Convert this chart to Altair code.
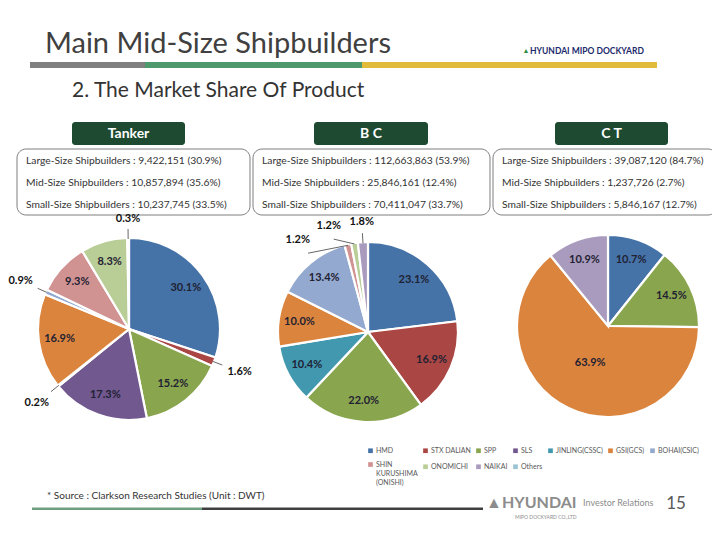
import math
import altair as alt
import pandas as pd

# ---------------- data ----------------
COMPANIES = ["HMD", "STX DALIAN", "SPP", "SLS", "JINLING(CSSC)", "GSI(GCS)",
             "BOHAI(CSIC)", "SHIN KURUSHIMA (ONISHI)", "ONOMICHI", "NAIKAI", "Others"]
COLORS = ["#4572A7", "#AA4643", "#89A54E", "#71588F", "#4198AF", "#DB843D",
          "#93A9CF", "#D19392", "#B9CD96", "#A99BBD", "#9CC3D3"]

TANKER_SHARE = [30.1, 1.6, 15.2, 17.3, 0.2, 16.9, 0.9, 9.3, 8.3, 0.3, 0]
BC_SHARE = [23.1, 16.9, 22.0, 0, 10.4, 10.0, 13.4, 1.2, 1.2, 1.8, 0]
CT_SHARE = [10.7, 0, 14.5, 0, 0, 63.9, 0, 0, 0, 10.9, 0]

PRODUCTS = ["Tanker", "B C", "C T"]
SIZE_CLASSES = ["Large-Size Shipbuilders", "Mid-Size Shipbuilders", "Small-Size Shipbuilders"]
TANKER_DWT = [9422151, 10857894, 10237745]
TANKER_PCT = [30.9, 35.6, 33.5]
BC_DWT = [112663863, 25846161, 70411047]
BC_PCT = [53.9, 12.4, 33.7]
CT_DWT = [39087120, 1237726, 5846167]
CT_PCT = [84.7, 2.7, 12.7]

TITLE = "Main Mid-Size Shipbuilders"
SUBTITLE = "2. The Market Share Of Product"
SOURCE = "* Source : Clarkson Research Studies  (Unit : DWT)"
PAGE = "15"

# ---------------- helpers ----------------
FONT = "Lato"
ONE = pd.DataFrame({"k": [0]})


def P(v):
    return v - 8


def rect(x1, y1, x2, y2, **kw):
    return alt.Chart(ONE).mark_rect(**kw).encode(
        x=alt.value(P(x1)), x2=alt.value(P(x2)), y=alt.value(P(y1)), y2=alt.value(P(y2)))


def text(s, x, y, **kw):
    kw.setdefault("font", FONT)
    kw.setdefault("baseline", "middle")
    return alt.Chart(ONE).mark_text(**kw).encode(
        x=alt.value(P(x)), y=alt.value(P(y)), text=alt.value(s))


color_scale = alt.Scale(domain=COMPANIES, range=COLORS)
legend = alt.Legend(
    orient="none", legendX=P(367), legendY=P(447), columns=7, direction="horizontal",
    title=None, symbolType="square", symbolSize=22, symbolStrokeWidth=0,
    labelFont=FONT, labelFontSize=7, labelColor="#595959",
    columnPadding=4, rowPadding=6, symbolOffset=0, labelOffset=2,
    labelExpr="datum.label == 'SHIN KURUSHIMA (ONISHI)' ? ['SHIN', 'KURUSHIMA', '(ONISHI)'] : datum.label",
)


def pie_layers(shares, cx, cy, R):
    rows = []
    total = sum(s for s in shares if s > 0)
    cum = 0.0
    for i, (c, s) in enumerate(zip(COMPANIES, shares)):
        if s <= 0:
            continue
        rows.append(dict(idx=i, company=c, v=s, mid=cum + s / 2, label=f"{s:.1f}%"))
        cum += s
    gap = total * 17 / 360
    for r in rows:
        r["out"] = r["v"] < 2
        r["lab"] = r["mid"]
    for k in range(len(rows) - 2, -1, -1):
        a, b = rows[k], rows[k + 1]
        if a["out"] and b["out"] and b["lab"] - a["lab"] < gap:
            a["lab"] = b["lab"] - gap
    for r in rows:
        ang = 2 * math.pi * r["lab"] / total
        if r["out"]:
            r["rad"] = R + 12 + 14 * abs(math.sin(ang)) + 7 * abs(math.cos(ang))
        else:
            r["rad"] = R * (0.45 if r["v"] > 50 else 0.77)
    df = pd.DataFrame(rows)

    arcs = alt.Chart(df).mark_arc(radius=R, stroke="white", strokeWidth=2.2).encode(
        theta=alt.Theta("v:Q", stack=True, scale=alt.Scale(domain=[0, total])),
        order=alt.Order("idx:Q"),
        color=alt.Color("company:N", scale=color_scale, legend=legend),
        x=alt.value(P(cx)), y=alt.value(P(cy)),
    )
    labels_in = alt.Chart(df).transform_filter("!datum.out").mark_text(
        font=FONT, fontWeight="bold", fontSize=11, color="#1f2233", baseline="middle"
    ).encode(
        theta=alt.Theta("lab:Q", stack=False, scale=alt.Scale(domain=[0, total])),
        radius=alt.Radius("rad:Q", scale=None),
        text="label:N",
        x=alt.value(P(cx)), y=alt.value(P(cy)),
    )
    labels_out = alt.Chart(df).transform_filter("datum.out").mark_text(
        font=FONT, fontWeight="bold", fontSize=11, color="#111111", baseline="middle"
    ).encode(
        theta=alt.Theta("lab:Q", stack=False, scale=alt.Scale(domain=[0, total])),
        radius=alt.Radius("rad:Q", scale=None),
        text="label:N",
        x=alt.value(P(cx)), y=alt.value(P(cy)),
    )
    k = f"2*PI/{total}"
    leaders = alt.Chart(df).transform_filter("datum.out").transform_calculate(
        x1=f"{P(cx)} + {R - 1}*sin(datum.mid*{k})",
        y1=f"{P(cy)} - {R - 1}*cos(datum.mid*{k})",
        x2=f"{P(cx)} + {R + 9}*sin(datum.lab*{k})",
        y2=f"{P(cy)} - {R + 9}*cos(datum.lab*{k})",
    ).mark_rule(color="#404040", strokeWidth=0.8).encode(
        x=alt.X("x1:Q", scale=None), y=alt.Y("y1:Q", scale=None),
        x2="x2:Q", y2="y2:Q",
    )
    return [arcs, leaders, labels_in, labels_out]


layers = []

# header
layers.append(text(TITLE, 45, 44, fontSize=29, color="#404040", align="left"))
layers.append(text("\u25B2", 526, 51, fontSize=7, color="#2E8B3E", align="center"))
layers.append(text("HYUNDAI MIPO DOCKYARD", 530, 51, fontSize=8.5, fontWeight="bold",
                   color="#1B2A6B", align="left"))
layers.append(rect(30, 62, 145, 68, color="#808080"))
layers.append(rect(145, 62, 362, 68, color="#4F9A6C"))
layers.append(rect(362, 62, 657, 68, color="#E0BC3A"))
layers.append(text(SUBTITLE, 72, 91, fontSize=21, color="#333333", align="left"))

# product headers and info boxes
HDR_X = [(72, 185), (314, 428), (555, 668)]
BOX_X = [(17, 250), (253, 490), (493, 717)]
DWT = [TANKER_DWT, BC_DWT, CT_DWT]
PCT = [TANKER_PCT, BC_PCT, CT_PCT]
for p, name in enumerate(PRODUCTS):
    x1, x2 = HDR_X[p]
    layers.append(rect(x1, 122, x2, 145, color="#1D4A31", cornerRadius=3))
    layers.append(text(name, (x1 + x2) / 2, 133.5, fontSize=14, fontWeight="bold",
                       color="white", align="center"))
    b1, b2 = BOX_X[p]
    layers.append(rect(b1, 149, b2, 215, filled=False, stroke="#7F7F7F",
                       strokeWidth=1, cornerRadius=9))
    for r, cls in enumerate(SIZE_CLASSES):
        s = f"{cls} : {DWT[p][r]:,} ({PCT[p][r]:.1f}%)"
        layers.append(text(s, b1 + 9, 161 + 22 * r, fontSize=10.3, color="#333333",
                           align="left"))

# pies
layers += pie_layers(TANKER_SHARE, 129, 329, 91)
layers += pie_layers(BC_SHARE, 368, 332, 90)
layers += pie_layers(CT_SHARE, 608, 326, 91)

# footer
layers.append(text(SOURCE, 47, 496, fontSize=10, color="#333333", align="left"))
layers.append(rect(32, 507.5, 202, 510, color="#6E9F7E"))
layers.append(rect(202, 507.5, 483, 510, color="#3F3F3F"))
layers.append(text("\u25B2", 494, 503, fontSize=16, color="#8C8C8C", align="center"))
layers.append(text("HYUNDAI", 502, 503, fontSize=16, fontWeight="bold",
                   color="#8C8C8C", align="left"))
layers.append(text("MIPO DOCKYARD CO.,LTD", 515, 517, fontSize=5, color="#8C8C8C",
                   align="left"))
layers.append(text("Investor Relations", 583, 503, fontSize=9, color="#8C8C8C",
                   align="left"))
layers.append(text(PAGE, 676, 504, fontSize=17, color="#595959", align="center"))

chart = alt.layer(*layers).resolve_scale(theta="independent").properties(
    width=704, height=524,
    autosize=alt.AutoSizeParams(type="none"),
    padding=0,
).configure_view(stroke=None)

chart.save("out.html", embed_options={"renderer": "svg", "actions": False})
